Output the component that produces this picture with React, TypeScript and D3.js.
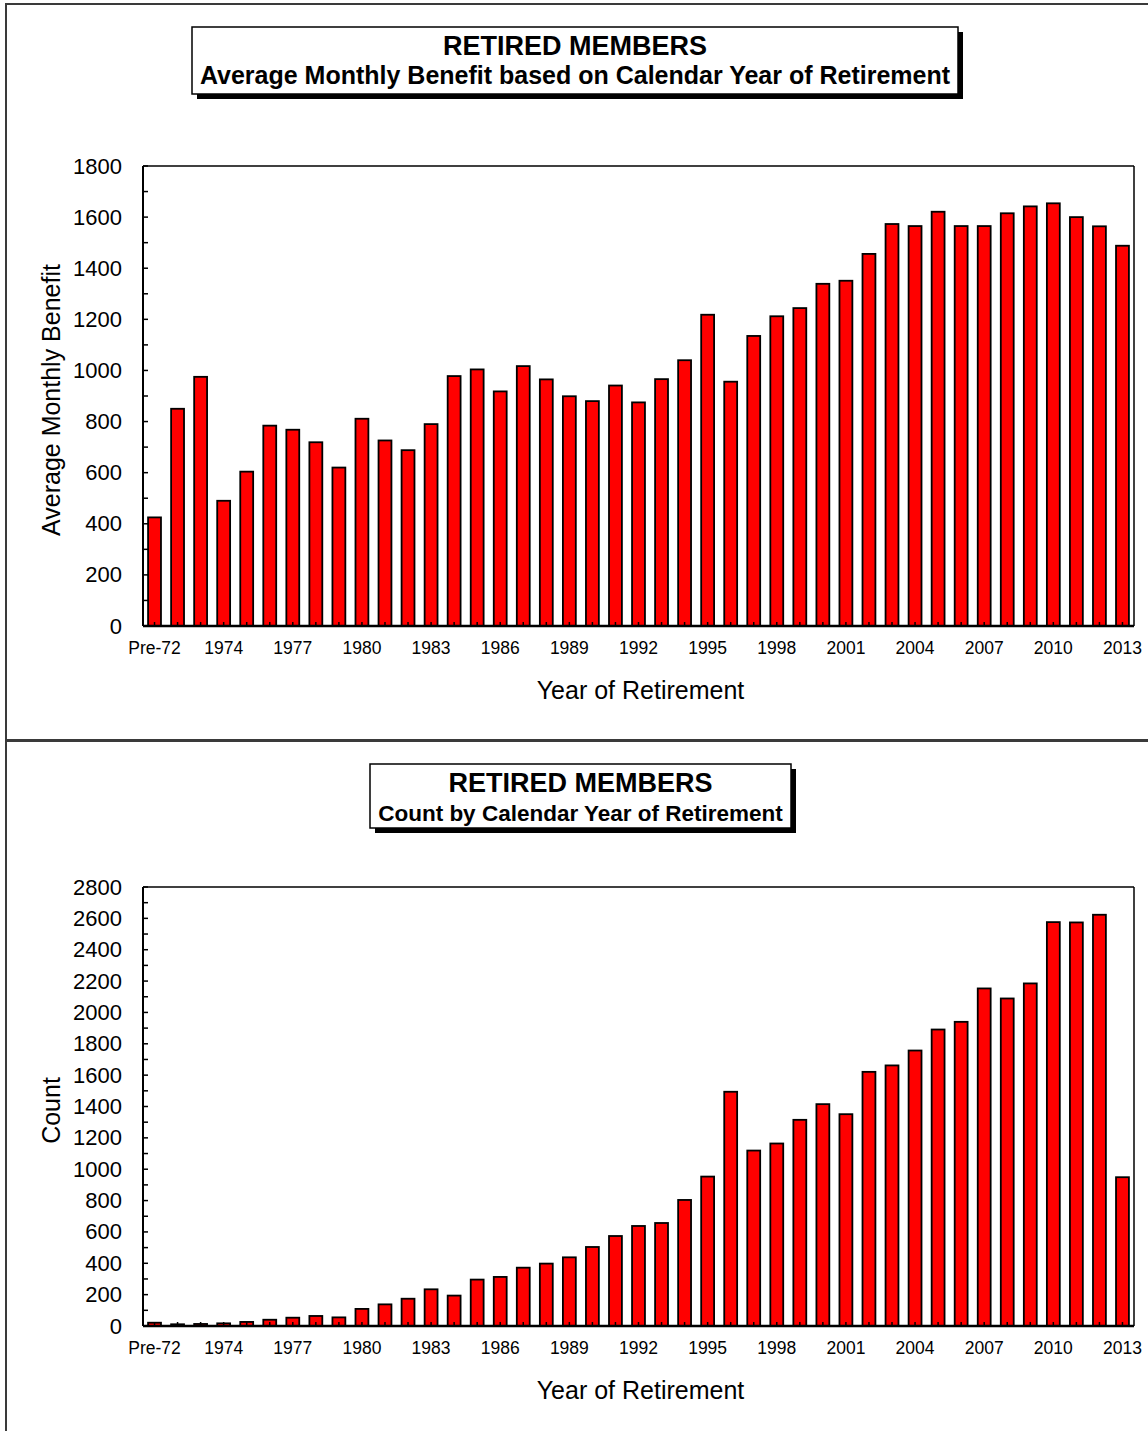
import React from 'react';
import * as d3 from 'd3';

// categories on the x axis
const years = [
  'Pre-72', '1972', '1973', '1974', '1975', '1976', '1977', '1978', '1979', '1980',
  '1981', '1982', '1983', '1984', '1985', '1986', '1987', '1988', '1989', '1990',
  '1991', '1992', '1993', '1994', '1995', '1996', '1997', '1998', '1999', '2000',
  '2001', '2002', '2003', '2004', '2005', '2006', '2007', '2008', '2009', '2010',
  '2011', '2012', '2013',
];

const avgBenefit = [
  425, 850, 975, 490, 604, 784, 768, 719, 620, 811,
  726, 688, 790, 978, 1004, 918, 1017, 965, 899, 880,
  941, 875, 966, 1040, 1218, 956, 1135, 1212, 1244, 1339,
  1351, 1456, 1573, 1565, 1621, 1565, 1565, 1615, 1642, 1654,
  1600, 1564, 1488,
];

const retireeCount = [
  21, 11, 13, 17, 26, 40, 53, 64, 55, 109,
  138, 174, 234, 194, 296, 313, 372, 398, 438, 504,
  574, 638, 657, 804, 953, 1494, 1119, 1164, 1315, 1415,
  1351, 1621, 1662, 1757, 1891, 1940, 2153, 2089, 2185, 2576,
  2574, 2623, 949,
];

const shownYears = [
  'Pre-72', '1974', '1977', '1980', '1983', '1986', '1989', '1992',
  '1995', '1998', '2001', '2004', '2007', '2010', '2013',
];

const benefitTicks = [0, 200, 400, 600, 800, 1000, 1200, 1400, 1600, 1800];
const countTicks = [0, 200, 400, 600, 800, 1000, 1200, 1400, 1600, 1800, 2000, 2200, 2400, 2600, 2800];

const FONT = '"Liberation Sans", Arial, Helvetica, sans-serif';

interface PanelProps {
  values: number[];
  ticks: number[];
  plotTop: number;
  plotBottom: number;
  yTitle: string;
  title: string;
  subtitle: string;
  subtitleSize: number;
  box: { x: number; y: number; w: number; h: number };
}

const x = d3.scaleBand<string>()
  .domain(years)
  .range([143, 1134])
  .paddingInner(0.44)
  .paddingOuter(0.22);

const Panel: React.FC<PanelProps> = ({ values, ticks, plotTop, plotBottom, yTitle, title, subtitle, subtitleSize, box }) => {
  const maxV = ticks[ticks.length - 1];
  const y = d3.scaleLinear().domain([0, maxV]).range([plotBottom, plotTop]);
  const [x0, x1] = x.range();
  const minor = d3.range(0, maxV + 1, 100);
  const cx = box.x + box.w / 2;

  return (
    <g>
      {/* title box with drop shadow */}
      <rect x={box.x + 5} y={box.y + 5} width={box.w} height={box.h} fill="#000" />
      <rect x={box.x} y={box.y} width={box.w} height={box.h} fill="#fff" stroke="#000" strokeWidth={1.5} />
      <text x={cx} y={box.y + 28} textAnchor="middle" fontFamily={FONT} fontWeight="bold" fontSize={27}>{title}</text>
      <text x={cx} y={box.y + 57} textAnchor="middle" fontFamily={FONT} fontWeight="bold" fontSize={subtitleSize}>{subtitle}</text>

      {/* plot frame */}
      <line x1={x0} x2={x1} y1={plotTop} y2={plotTop} stroke="#000" strokeWidth={1.5} />
      <line x1={x1} x2={x1} y1={plotTop} y2={plotBottom} stroke="#000" strokeWidth={1.5} />

      {/* bars */}
      {years.map((yr, i) => (
        <rect
          key={yr}
          x={x(yr)}
          y={y(values[i])}
          width={x.bandwidth()}
          height={plotBottom - y(values[i])}
          fill="#ff0000"
          stroke="#000"
          strokeWidth={1.8}
        />
      ))}

      {/* y axis */}
      <line x1={x0} x2={x0} y1={plotTop} y2={plotBottom} stroke="#000" strokeWidth={2} />
      {minor.map(v => (
        <line key={v} x1={x0} x2={x0 + 5} y1={y(v)} y2={y(v)} stroke="#000" strokeWidth={1.5} />
      ))}
      {ticks.map(v => (
        <text key={v} x={x0 - 21} y={y(v) + 7.5} textAnchor="end" fontFamily={FONT} fontSize={22}>{v}</text>
      ))}
      <text
        transform={`translate(60,${(plotTop + plotBottom) / 2 + 4}) rotate(-90)`}
        textAnchor="middle"
        fontFamily={FONT}
        fontSize={25}
      >{yTitle}</text>

      {/* x axis */}
      {years.map(yr => (
        <line
          key={yr}
          x1={x(yr)! + x.bandwidth() / 2}
          x2={x(yr)! + x.bandwidth() / 2}
          y1={plotBottom}
          y2={plotBottom - 4}
          stroke="#000"
          strokeWidth={1.5}
        />
      ))}
      <line x1={x0} x2={x1} y1={plotBottom} y2={plotBottom} stroke="#000" strokeWidth={2.5} />
      {shownYears.map(yr => (
        <text key={yr} x={x(yr)! + x.bandwidth() / 2} y={plotBottom + 27.5} textAnchor="middle" fontFamily={FONT} fontSize={17.5}>{yr}</text>
      ))}
      <text x={(x0 + x1) / 2 + 2} y={plotBottom + 73} textAnchor="middle" fontFamily={FONT} fontSize={25}>Year of Retirement</text>
    </g>
  );
};

const App: React.FC = () => {
  return (
    <div style={{ position: 'absolute', left: 0, top: 0 }}>
      <svg width={1148} height={1431} style={{ display: 'block' }}>
        <rect width={1148} height={1431} fill="#fff" />
        <rect x={6} y={4} width={1160} height={736} fill="none" stroke="#3a3a3a" strokeWidth={2} />
        <rect x={6} y={741} width={1160} height={720} fill="none" stroke="#3a3a3a" strokeWidth={2} />
        <Panel
          values={avgBenefit}
          ticks={benefitTicks}
          plotTop={166}
          plotBottom={626}
          yTitle="Average Monthly Benefit"
          title="RETIRED MEMBERS"
          subtitle="Average Monthly Benefit based on Calendar Year of Retirement"
          subtitleSize={25}
          box={{ x: 192, y: 27, w: 766, h: 67 }}
        />
        <Panel
          values={retireeCount}
          ticks={countTicks}
          plotTop={887}
          plotBottom={1326}
          yTitle="Count"
          title="RETIRED MEMBERS"
          subtitle="Count by Calendar Year of Retirement"
          subtitleSize={22.5}
          box={{ x: 370, y: 764, w: 421, h: 64 }}
        />
      </svg>
    </div>
  );
};

export default App;
